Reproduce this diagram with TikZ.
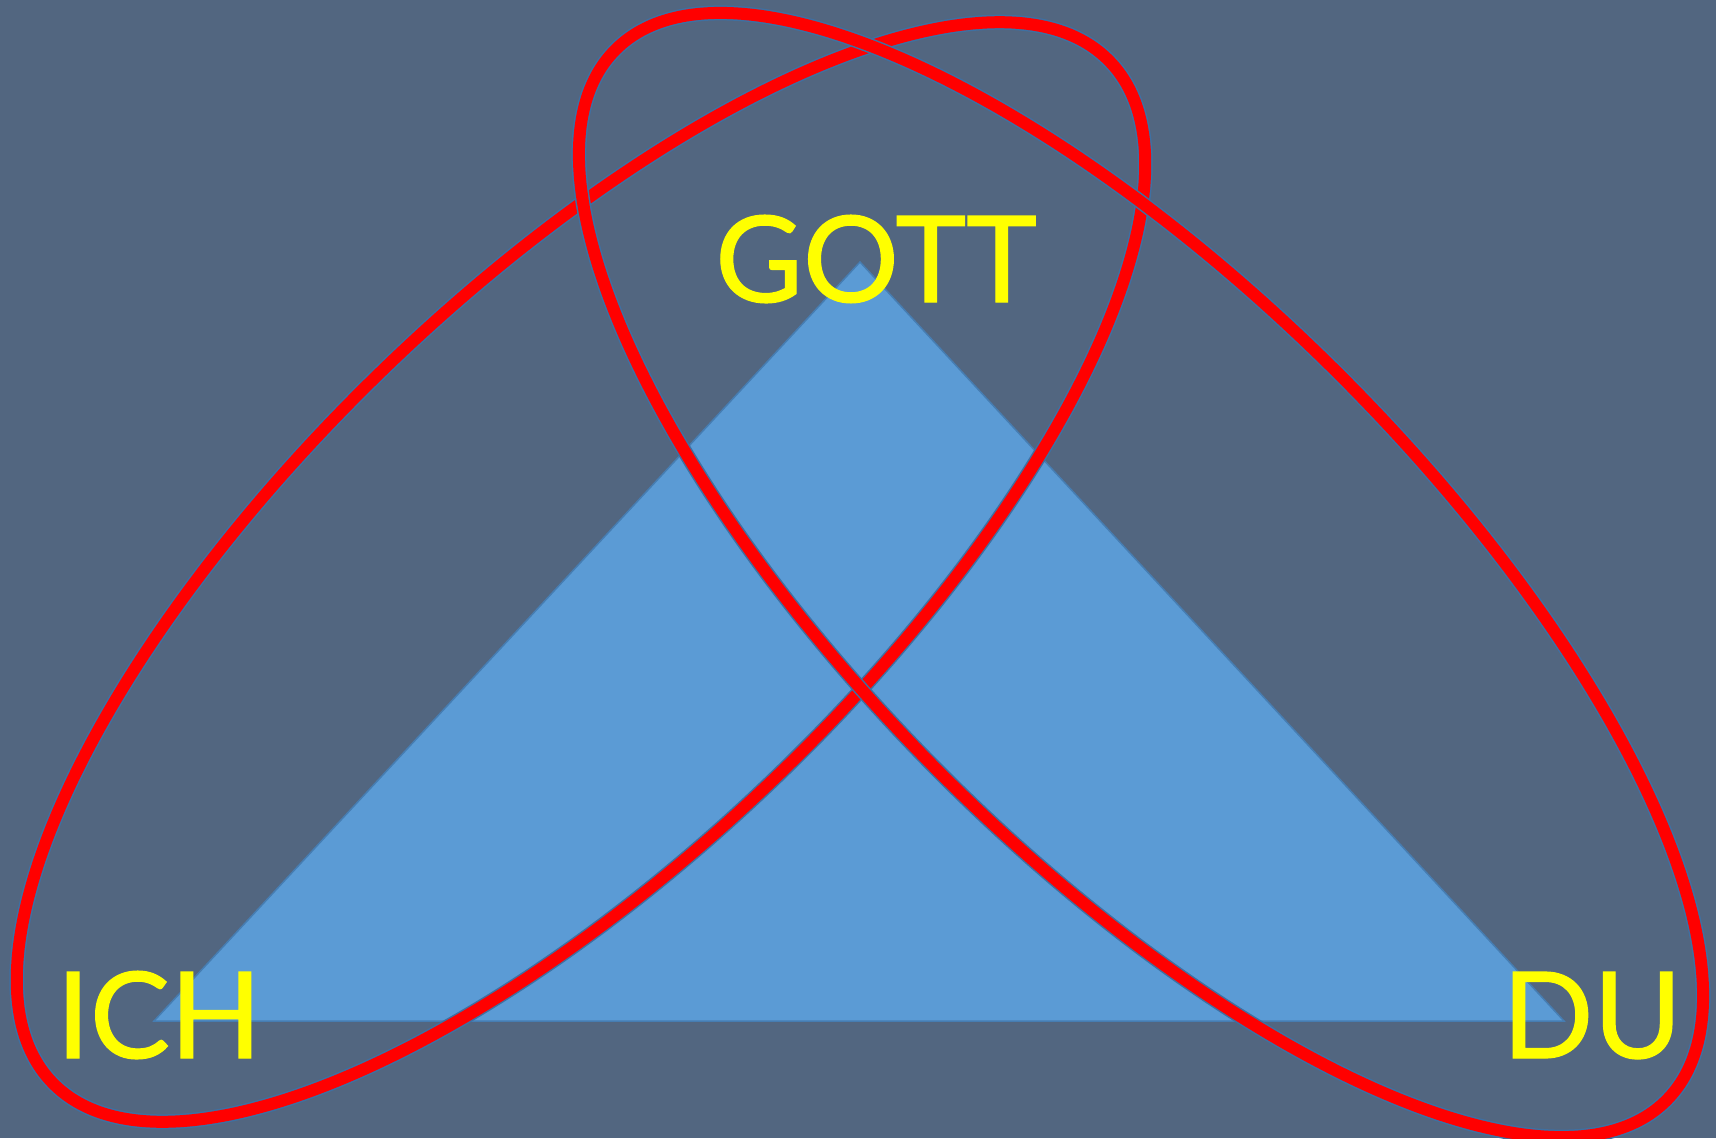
\documentclass[tikz,border=0pt]{standalone}
\usepackage{fontspec}
\setmainfont{Lato}
\definecolor{bgcol}{RGB}{82,102,128}
\definecolor{trifill}{RGB}{91,155,213}
\definecolor{triedge}{RGB}{70,125,178}
\definecolor{ringedge}{RGB}{62,112,162}
\definecolor{ringred}{RGB}{255,0,0}
\definecolor{txtyellow}{RGB}{255,255,0}
\tikzset{
  ringback/.style={draw=ringedge,line width=15pt},
  ringfront/.style={draw=ringred,line width=12pt},
  label/.style={text=txtyellow,inner sep=0pt,font=\fontsize{120}{120}\selectfont\addfontfeature{FakeBold=1}},
}
\begin{document}
\begin{tikzpicture}[x=1pt,y=1pt]
\useasboundingbox (0,0) rectangle (1716,-1138);
\fill[bgcol] (0,0) rectangle (1716,-1138);
% triangle
\coordinate (apex) at (860,-262);
\coordinate (bl) at (154,-1021);
\coordinate (br) at (1564,-1021);
\filldraw[fill=trifill,draw=triedge,line width=1.5pt,line join=miter] (apex) -- (br) -- (bl) -- cycle;
% rings
\coordinate (cl) at (581,-572);
\coordinate (cr) at (1141,-575);
\draw[ringback,rotate around={44:(cl)}] (cl) ellipse [x radius=735, y radius=283];
\draw[ringfront,rotate around={44:(cl)}] (cl) ellipse [x radius=735, y radius=283];
\draw[ringback,rotate around={-45:(cr)}] (cr) ellipse [x radius=743, y radius=282];
\draw[ringfront,rotate around={-45:(cr)}] (cr) ellipse [x radius=743, y radius=282];
% labels
\node[label,anchor=base] (gott) at (876,-302) {GOTT};
\node[label,anchor=base] (ich) at (159,-1058) {ICH};
\node[label,anchor=base] (du) at (1592,-1058) {DU};
\end{tikzpicture}
\end{document}
